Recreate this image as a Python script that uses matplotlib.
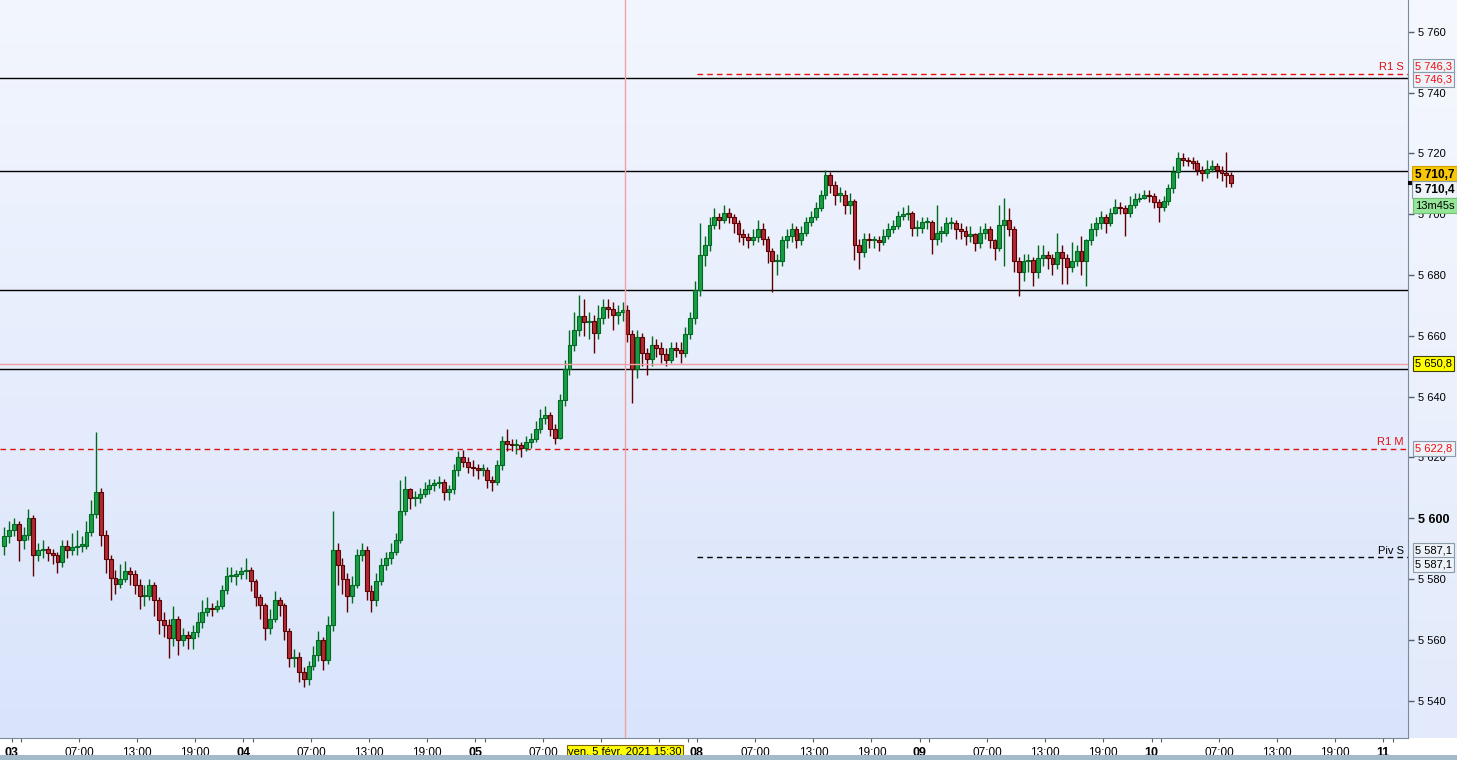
import numpy as np
import pandas as pd
import matplotlib
matplotlib.use('Agg')
import matplotlib.pyplot as plt
from matplotlib.colors import LinearSegmentedColormap
from matplotlib.transforms import blended_transform_factory

plt.rcParams['font.family'] = ['Liberation Sans', 'DejaVu Sans']

# 30 min bars: Feb 2 23:00 -> Feb 5 21:30, then Feb 8 00:00 -> Feb 10 08:00
first_open = 5591.0
close = [
    # Feb 2 23:00 - Feb 3
    5594, 5596, 5598, 5593, 5594.5, 5600, 5588, 5589.5, 5590, 5588.5,
    5588, 5585.5, 5591, 5589.5, 5590.5, 5591, 5591, 5595.5, 5601.5, 5608.5,
    5594.5, 5586.5, 5580.5, 5578.5, 5580, 5582.5, 5581.5, 5578, 5574.5, 5574.5,
    5578, 5573, 5566.5, 5565, 5560.5, 5567, 5560, 5561.5, 5560.5, 5562.5,
    5566, 5569, 5570.5, 5570, 5571, 5576.5, 5581, 5581, 5581.5, 5582.5,
    # Feb 4
    5583, 5579.5, 5574, 5571.5, 5564, 5567, 5573, 5571.5, 5563, 5554,
    5554.5, 5549.5, 5547, 5551.5, 5555, 5560, 5553.5, 5565, 5589.5, 5584.5,
    5580, 5574.5, 5578, 5588, 5589.5, 5576, 5573, 5579.5, 5584.5, 5587,
    5589, 5593, 5602.5, 5609.5, 5606.5, 5606.5, 5608, 5609.5, 5611, 5611.5,
    5612, 5608.5, 5609.5, 5616, 5620, 5618.5, 5617, 5616.5, 5616, 5616,
    # Feb 5
    5612.5, 5612, 5617.5, 5625.5, 5624.5, 5624, 5624, 5623, 5625, 5626,
    5629.5, 5633, 5634, 5629.5, 5626.5, 5639, 5649, 5657, 5662, 5666.5,
    5664.5, 5665, 5661, 5666, 5669.5, 5669, 5667, 5668, 5668.5, 5660.5,
    5649, 5659.5, 5654.5, 5652.5, 5657, 5656, 5654, 5652, 5656, 5655.5,
    5654.5, 5660.5,
    # Feb 8
    5666, 5675, 5686.5, 5690, 5696.5, 5699, 5698, 5700.5,
    5699, 5697, 5693.5, 5692.5, 5691.5, 5692.5, 5695, 5692, 5688, 5684.5,
    5684.5, 5691.5, 5693, 5695, 5691.5, 5694, 5697.5, 5699, 5702, 5706.5,
    5713, 5709.5, 5706.5, 5706.5, 5703, 5704.5, 5690, 5687.5, 5692, 5691.5,
    5691.5, 5691, 5693, 5695, 5696, 5699.5, 5700, 5700.5, 5695.5, 5695.5,
    # Feb 9
    5697.5, 5697.5, 5692, 5694, 5694, 5697, 5697, 5695, 5694.5, 5693,
    5693.5, 5690.5, 5694, 5695, 5691.5, 5689, 5696.5, 5698, 5695, 5684.5,
    5681, 5684.5, 5685, 5681, 5685.5, 5686.5, 5685.5, 5683.5, 5687.5, 5685.5,
    5682.5, 5684.5, 5688, 5684.5, 5691.5, 5695, 5697, 5699, 5697, 5700.5,
    5702.5, 5702, 5700.5, 5703, 5705, 5705.5, 5706.5, 5706, 5704, 5702.5,
    # Feb 10
    5704.5, 5708.5, 5714, 5718.5, 5718, 5717.5, 5717, 5714.5, 5713.5, 5715,
    5716, 5714.5, 5713.5, 5713, 5710.4,
]
high = [
    5597, 5599, 5600, 5599, 5597, 5603, 5601, 5592, 5593, 5591,
    5590, 5589, 5593, 5593, 5595, 5596, 5594, 5599, 5606, 5628.5,
    5610, 5596, 5588, 5583, 5585, 5586, 5584, 5583, 5580, 5578,
    5580, 5579, 5574, 5569, 5567, 5571, 5568, 5564, 5563, 5565,
    5569, 5573, 5574, 5572, 5573, 5578, 5584, 5584, 5583, 5584,
    5587, 5584, 5580, 5575, 5572, 5570, 5576, 5574, 5572, 5564,
    5557, 5556, 5551, 5553, 5558, 5563, 5561, 5568, 5602.5, 5592,
    5587, 5582, 5581, 5590, 5592, 5591, 5578, 5582, 5587, 5589,
    5592, 5595, 5612.5, 5614, 5610, 5609, 5610, 5612, 5613, 5613,
    5614, 5613, 5611, 5618, 5622, 5622.5, 5620, 5619, 5618, 5618,
    5617, 5614, 5619, 5627, 5629.5, 5626, 5626, 5625, 5627, 5628,
    5632, 5636, 5637, 5635, 5631, 5641, 5652, 5662, 5668, 5673.5,
    5672, 5668, 5667, 5670, 5672, 5672, 5671, 5670, 5671, 5670,
    5662, 5662, 5661, 5656, 5660, 5659, 5658, 5656, 5658, 5658,
    5658, 5663,
    5668, 5678, 5697, 5693, 5699, 5702, 5700.5, 5703,
    5702, 5700, 5698, 5695, 5694, 5695, 5698, 5697, 5693, 5689,
    5687, 5693, 5695, 5697, 5696, 5696, 5699, 5701, 5704, 5708,
    5714.5, 5714, 5711, 5709, 5708, 5707, 5705, 5692, 5694, 5694,
    5693, 5693, 5695, 5697, 5698, 5701, 5702.5, 5703, 5701, 5698,
    5699, 5699, 5698, 5703, 5696, 5699, 5699, 5698, 5697, 5696,
    5696, 5694, 5696, 5697, 5696, 5692, 5703, 5705.5, 5702, 5696,
    5686, 5687, 5687, 5686, 5690, 5690, 5688, 5687, 5694, 5690,
    5687, 5691, 5690, 5693, 5692, 5697, 5699, 5701, 5700, 5702,
    5705, 5704, 5703, 5706, 5707, 5707, 5708, 5708, 5707, 5705,
    5706, 5710, 5716, 5720.5, 5720, 5719, 5719, 5718, 5716, 5718,
    5718, 5717, 5716, 5720.5, 5714,
]
low = [
    5588, 5592, 5594, 5586, 5590, 5593, 5581, 5586, 5587, 5586,
    5585, 5582, 5584, 5587, 5588, 5588, 5589, 5590, 5594, 5600,
    5591, 5582, 5573, 5575, 5577, 5579, 5578, 5575, 5570, 5571,
    5573, 5568, 5562, 5561, 5554, 5558, 5555, 5558, 5557, 5557,
    5561, 5564, 5568, 5568, 5569, 5570, 5575, 5579, 5578, 5580,
    5580, 5576, 5571, 5567, 5560, 5562, 5566, 5568, 5560, 5551,
    5551, 5546, 5544.5, 5545, 5550, 5553, 5550, 5552, 5563, 5578,
    5575, 5569, 5572, 5577, 5586, 5573, 5569, 5571, 5578, 5583,
    5585, 5588, 5592, 5601, 5603, 5604, 5605, 5607, 5608, 5609,
    5610, 5606, 5606, 5608, 5614, 5617, 5615, 5614, 5613, 5614,
    5610, 5609, 5611, 5616, 5622, 5622, 5621, 5620, 5622, 5623,
    5625, 5628, 5631, 5627, 5624.5, 5626, 5637, 5647, 5655, 5660,
    5660, 5659, 5654.5, 5659, 5664, 5666, 5662, 5664, 5665, 5658,
    5638, 5646, 5650, 5647, 5650, 5653, 5651, 5650, 5651, 5653,
    5651, 5653,
    5659, 5664, 5673, 5683, 5688, 5695, 5695, 5697,
    5697, 5694, 5691, 5690, 5689, 5690, 5691, 5690, 5684, 5674.5,
    5680, 5683, 5689, 5691, 5689, 5690, 5693, 5696, 5698, 5701,
    5705, 5707, 5703, 5704, 5700, 5700, 5685, 5682, 5686, 5689,
    5689, 5688, 5690, 5692, 5694, 5695, 5698, 5698, 5693, 5693,
    5694, 5695, 5687, 5690, 5691, 5693, 5695, 5692, 5692, 5690,
    5691, 5688, 5689, 5692, 5689, 5685, 5688, 5683, 5693, 5681,
    5673, 5678, 5681, 5676.5, 5679, 5683, 5682, 5680, 5682, 5677,
    5677, 5681, 5683, 5680, 5676.5, 5690, 5693, 5695, 5694, 5696,
    5700, 5700, 5693, 5699, 5702, 5704, 5705, 5704, 5702, 5697.5,
    5701, 5703, 5707, 5712, 5716, 5716, 5715, 5713, 5711, 5712,
    5714, 5712, 5711, 5709, 5709,
]

# horizontal levels
black_levels = [5745.0, 5714.3, 5675.0, 5649.1]
r1_s = 5746.3
r1_m = 5622.8
piv_s = 5587.1
cross_price = 5650.8
cross_time = pd.Timestamp('2021-02-05 15:30')
ask_price = '5 710,7'
last_price = 5710.4
countdown = '13m45s'

price_ticks = [5540, 5560, 5580, 5600, 5620, 5640, 5660, 5680, 5700, 5720, 5740, 5760]
day_labels = ['03', '04', '05', '08', '09', '10', '11']
day_dates = ['2021-02-03', '2021-02-04', '2021-02-05', '2021-02-08', '2021-02-09', '2021-02-10', '2021-02-11']
hour_labels = ['07:00', '13:00', '19:00']

times = pd.date_range('2021-02-02 23:00', '2021-02-05 21:30', freq='30min').append(
    pd.date_range('2021-02-08 00:00', '2021-02-10 08:00', freq='30min'))

t0 = pd.Timestamp('2021-02-03')
weekend = pd.Timestamp('2021-02-08')


def session_hours(ts):
    # hours from Feb 3 00:00, with the weekend removed
    h = (pd.Timestamp(ts) - t0) / pd.Timedelta(hours=1)
    if pd.Timestamp(ts) >= weekend:
        h -= 50
    return h


x = np.array([session_hours(t) for t in times]) + 0.25
o = np.array([first_open] + close[:-1])
c = np.array(close)
h = np.array(high)
l = np.array(low)

W, H = 1457, 760
fig = plt.figure(figsize=(W / 100, H / 100), dpi=100, facecolor='white')

# right price strip background
strip = fig.add_axes([1408 / W, 22 / H, 49 / W, 738 / H])
strip.imshow(np.linspace(0, 1, 256).reshape(-1, 1), aspect='auto', extent=[0, 1, 0, 1],
             cmap=LinearSegmentedColormap.from_list('s', ['#f5f8fe', '#e2eafb']))
strip.set_axis_off()

ax = fig.add_axes([0, 22 / H, 1408 / W, 738 / H])
ax.set_xlim(-1.2, 144.55)
ax.set_ylim(5527.7, 5770.5)

grad = LinearSegmentedColormap.from_list('bg', ['#f3f6fe', '#d9e4fb'])
ax.imshow(np.linspace(0, 1, 256).reshape(-1, 1), aspect='auto', extent=[0, 1, 0, 1],
          transform=ax.transAxes, cmap=grad, zorder=0)

# level lines
for lv in black_levels:
    ax.axhline(lv, color='black', lw=1, zorder=1)
x_mon = session_hours('2021-02-08 00:55')
ax.hlines(r1_s, x_mon, 144.55, colors='#ee1010', lw=1, linestyles=(0, (4, 3)), zorder=1)
ax.axhline(r1_m, color='#dd1010', lw=1, linestyle=(0, (4, 3)), zorder=1)
ax.hlines(piv_s, x_mon, 144.55, colors='black', lw=1, linestyles=(0, (4, 3)), zorder=1)

# candles
up = c >= o
green_face, green_edge = '#1a9c46', '#006a20'
red_face, red_edge = '#ad2a33', '#5e0000'
ax.vlines(x[up], l[up], h[up], colors=green_edge, lw=1, zorder=2)
ax.vlines(x[~up], l[~up], h[~up], colors=red_edge, lw=1, zorder=2)
body_lo = np.minimum(o, c)
body_h = np.maximum(np.abs(c - o), 0.4)
ax.bar(x[up], body_h[up], bottom=body_lo[up], width=0.4, color=green_face,
       edgecolor=green_edge, lw=0.8, zorder=3)
ax.bar(x[~up], body_h[~up], bottom=body_lo[~up], width=0.4, color=red_face,
       edgecolor=red_edge, lw=0.8, zorder=3)

# crosshair
xc = session_hours(cross_time)
ax.axvline(xc, color='#f2a0a4', lw=1, zorder=4)
ax.axhline(cross_price, color='#f2a0a4', lw=1, zorder=4)

# level names
ax.text(144.1, r1_s + 0.6, 'R1 S', color='#e01010', fontsize=8, ha='right', va='bottom', zorder=5)
ax.text(144.1, r1_m + 0.6, 'R1 M', color='#e01010', fontsize=8, ha='right', va='bottom', zorder=5)
ax.text(144.1, piv_s + 0.6, 'Piv S', color='black', fontsize=8, ha='right', va='bottom', zorder=5)

# axes look
for s in ['top', 'left']:
    ax.spines[s].set_visible(False)
ax.spines['right'].set_color('#7d8c9b')
ax.spines['bottom'].set_color('#7d8c9b')
ax.yaxis.tick_right()
ax.set_yticks(price_ticks, [f'{p // 1000} {p % 1000:03d}' for p in price_ticks])
ax.tick_params(axis='y', length=4, width=1, color='#50606e', pad=3, labelsize=8)
for lab in ax.get_yticklabels():
    if lab.get_text() == '5 600':
        lab.set_fontweight('bold')
        lab.set_fontsize(9)

# time axis
narrow = ['Liberation Sans Narrow', 'Liberation Sans', 'DejaVu Sans']
xtr = blended_transform_factory(ax.transData, ax.transAxes)
tick_pos = []
for lab, d in zip(day_labels, day_dates):
    xd = session_hours(d)
    tick_pos += [xd, xd + 1]
    xl = session_hours('2021-02-08 00:55') if lab == '08' else xd
    ax.text(xl, -0.012, lab, transform=xtr, ha='center', va='top', fontsize=9,
            fontweight='bold', family=narrow)
    if lab == '11':
        continue
    for hl in hour_labels:
        xh = session_hours(pd.Timestamp(d) + pd.Timedelta(hours=int(hl[:2])))
        tick_pos.append(xh)
        # labels under the crosshair date box are hidden
        if lab == '05' and hl != '07:00':
            continue
        ax.text(xh, -0.012, hl, transform=xtr, ha='center', va='top', fontsize=8.5, family=narrow)
ax.set_xticks(tick_pos, [''] * len(tick_pos))
ax.tick_params(axis='x', length=3, color='#50606e')

# crosshair date box
ax.text(xc, -0.012, 'ven. 5 févr. 2021 15:30', transform=xtr,
        ha='center', va='top', fontsize=8, family=narrow, zorder=10,
        bbox=dict(boxstyle='square,pad=0.15', facecolor='#ffff00', edgecolor='#806000', lw=0.8))

# price boxes on the right axis
ytr = blended_transform_factory(ax.transAxes, ax.transData)


def price_box(price, text, dy, fc, color='black', bold=False, ec='#8b9bab'):
    ax.annotate(text, xy=(1, price), xycoords=ytr, xytext=(7, dy), textcoords='offset pixels',
                ha='left', va='center', fontsize=8.5 if bold else 8, color=color,
                fontweight='bold' if bold else 'normal', annotation_clip=False, zorder=10,
                bbox=dict(boxstyle='square,pad=0.22', facecolor=fc, edgecolor=ec, lw=0.8))


price_box(r1_s, '5 746,3', 7, '#edf1f8', color='#f01010')
price_box(r1_s, '5 746,3', -6, '#edf1f8', color='#f01010')
price_box(last_price, ask_price, 8, '#f7c708', bold=True, ec='#d0a000')
price_box(last_price, '5 710,4', -7, '#eef2f9', bold=True)
price_box(last_price, countdown, -23, '#96e69a', ec='#70c070')
price_box(cross_price, '5 650,8', 0, '#ffff00', ec='#404000')
price_box(r1_m, '5 622,8', 0, '#edf1f8', color='#f01010')
price_box(piv_s, '5 587,1', 7, '#edf1f8')
price_box(piv_s, '5 587,1', -7, '#edf1f8')
ax.plot([1.0, 1.004], [last_price, last_price], transform=ytr, color='black', lw=3,
        clip_on=False, zorder=9, solid_capstyle='butt')

# bottom band
fig.patches.append(plt.Rectangle((0, 0), 1, 5 / H, transform=fig.transFigure,
                                 facecolor='#a2bac9', edgecolor='none'))

fig.savefig('out.png', dpi=100)
